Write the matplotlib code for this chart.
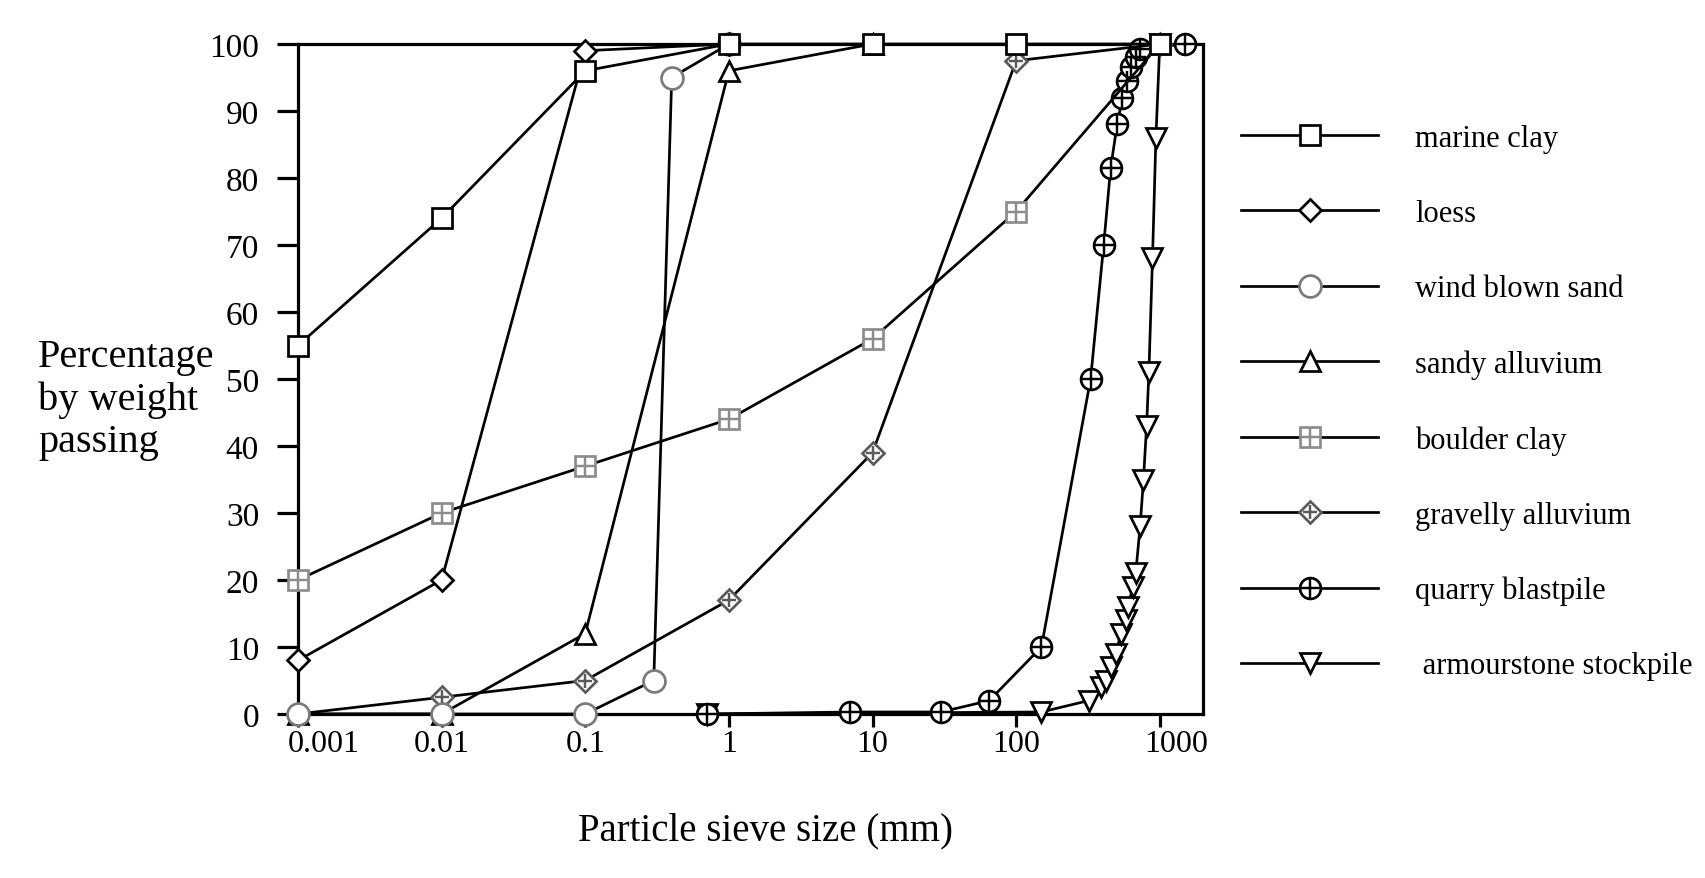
import matplotlib
matplotlib.use('Agg')
import matplotlib.pyplot as plt
from matplotlib.ticker import FixedLocator, FuncFormatter, NullLocator
from matplotlib.transforms import ScaledTranslation

plt.rcParams['font.family'] = ['Liberation Serif', 'DejaVu Serif']

# sieve size (mm) and percentage passing
marine_x = [0.001, 0.01, 0.1, 1, 10, 100, 1000]
marine_y = [55, 74, 96, 100, 100, 100, 100]

loess_x = [0.001, 0.01, 0.1, 1]
loess_y = [8, 20, 99, 100]

wind_x = [0.001, 0.01, 0.1, 0.3, 0.4, 1]
wind_y = [0, 0, 0, 5, 95, 100]

sandy_x = [0.001, 0.01, 0.1, 1, 10]
sandy_y = [0, 0, 12, 96, 100]

boulder_x = [0.001, 0.01, 0.1, 1, 10, 100, 1000]
boulder_y = [20, 30, 37, 44, 56, 75, 100]

gravelly_x = [0.001, 0.01, 0.1, 1, 10, 100, 1000]
gravelly_y = [0, 2.5, 5, 17, 39, 97.5, 100]

quarry_x = [0.7, 7, 30, 65, 150, 330, 407, 455, 505, 550, 590, 630, 680, 730, 1500]
quarry_y = [0, 0.3, 0.3, 2, 10, 50, 70, 81.5, 88, 92, 94.5, 96.5, 98, 99.3, 100]

armour_x = [0.7, 150, 320, 390, 420, 455, 495, 535, 580, 600, 650, 680,
            730, 770, 810, 840, 890, 940, 1000]
armour_y = [0, 0.3, 2, 4, 5, 7, 9, 12, 14, 16, 19, 21,
            28, 35, 43, 51, 68, 86, 100]

x_ticks = [0.001, 0.01, 0.1, 1, 10, 100, 1000]
y_ticks = list(range(0, 101, 10))

LW = 1.95
MS = 15
GREY_LIGHT = '#8c8c8c'
GREY_MID = '#7a7a7a'
GREY_DARK = '#5a5a5a'


def series(ax, x, y, marker, ms, edge, cross=False, z=3):
    # line with white-filled marker, optional '+' drawn on top
    line, = ax.plot(x, y, color='black', lw=LW, marker=marker, ms=ms,
                    mfc='white', mec=edge, mew=LW, clip_on=False, zorder=z)
    if not cross:
        return line
    plus, = ax.plot(x, y, ls='none', marker='+', ms=ms * 0.95, mec=edge,
                    mew=LW * 0.9, clip_on=False, zorder=z + 0.01)
    return (line, plus)


fig = plt.figure(figsize=(17.06, 8.79), dpi=100)
ax = fig.add_axes([298 / 1706, 1 - 715 / 879, 905 / 1706, 670 / 879])

h_armour = series(ax, armour_x, armour_y, 'v', MS, 'black', z=3.0)
h_quarry = series(ax, quarry_x, quarry_y, 'o', MS, 'black', cross=True, z=3.1)
h_gravelly = series(ax, gravelly_x, gravelly_y, 'D', MS * 0.72, GREY_DARK,
                    cross=True, z=3.2)
h_boulder = series(ax, boulder_x, boulder_y, 's', MS, GREY_LIGHT,
                   cross=True, z=3.3)
h_sandy = series(ax, sandy_x, sandy_y, '^', MS, 'black', z=3.4)
h_wind = series(ax, wind_x, wind_y, 'o', MS * 1.05, GREY_MID, z=3.5)
h_loess = series(ax, loess_x, loess_y, 'D', MS * 0.72, 'black', z=3.6)
h_marine = series(ax, marine_x, marine_y, 's', MS, 'black', z=3.7)

ax.set_xscale('log')
ax.set_xlim(0.001, 2000)
ax.set_ylim(0, 100)
ax.xaxis.set_major_locator(FixedLocator(x_ticks))
ax.xaxis.set_minor_locator(NullLocator())
ax.xaxis.set_major_formatter(FuncFormatter(lambda v, p: f'{v:g}'))
ax.set_yticks(y_ticks)

for side in ax.spines.values():
    side.set_linewidth(2.3)
ax.tick_params(axis='y', direction='out', length=15, width=2.3,
               labelsize=24, pad=13)
ax.tick_params(axis='x', direction='out', length=9, width=2.3,
               labelsize=23, pad=2)

# end labels sit a little to the right of their ticks, clear of the spines
xlabels = ax.get_xticklabels()
for lab, dx in ((xlabels[0], 26), (xlabels[-1], 16)):
    lab.set_transform(lab.get_transform() +
                      ScaledTranslation(dx / 100, 0, fig.dpi_scale_trans))

fig.text(38 / 1706, 1 - 400 / 879, 'Percentage\nby weight\npassing',
         ha='left', va='center', fontsize=29, linespacing=1.2)
fig.text(766 / 1706, 1 - 831 / 879, 'Particle sieve size (mm)',
         ha='center', va='center', fontsize=28)

handles = [h_marine, h_loess, h_wind, h_sandy, h_boulder, h_gravelly,
           h_quarry, h_armour]
labels = ['marine clay', 'loess', 'wind blown sand', 'sandy alluvium',
          'boulder clay', 'gravelly alluvium', 'quarry blastpile',
          ' armourstone stockpile']
fig.legend(handles, labels, loc='upper left',
           bbox_to_anchor=(1241 / 1706, 1 - 125 / 879), frameon=False,
           fontsize=22, handlelength=4.5, handletextpad=1.2,
           labelspacing=1.51, borderpad=0, borderaxespad=0)

fig.savefig('out.png', dpi=100)
